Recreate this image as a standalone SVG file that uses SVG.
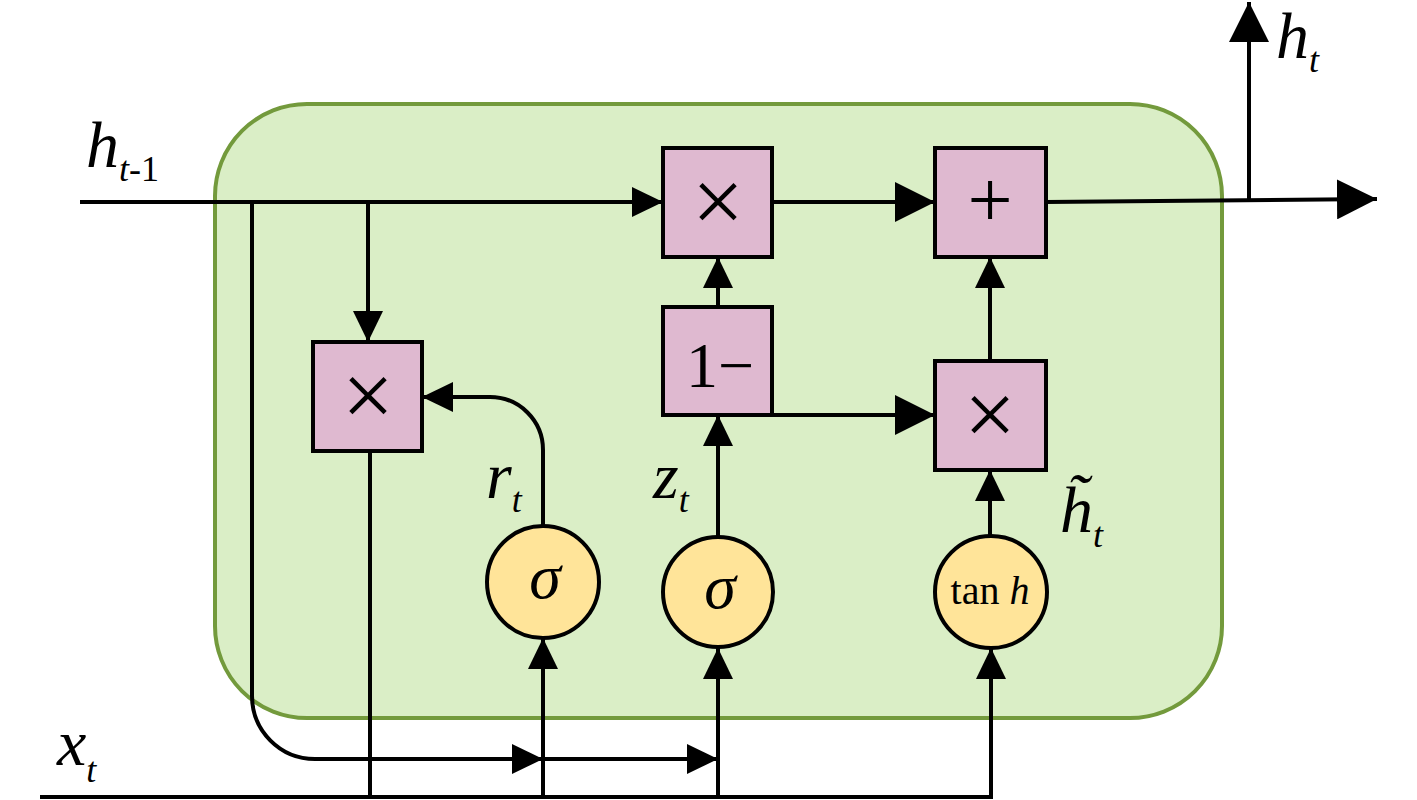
<svg xmlns="http://www.w3.org/2000/svg" width="1417" height="800" viewBox="0 0 1417 800">
<style>
.cell{fill:#daeec6;stroke:#739a3c;stroke-width:4}
.op{fill:#dfb9d0;stroke:#000;stroke-width:4}
.act{fill:#ffe499;stroke:#000;stroke-width:4}
.ln{fill:none;stroke:#000;stroke-width:4}
.m{font-family:"Liberation Serif",serif;font-style:italic;fill:#000}
.r{font-family:"Liberation Serif",serif;fill:#000}
</style>
<defs>
<marker id="as" markerUnits="userSpaceOnUse" markerWidth="31" markerHeight="30" refX="31" refY="15" orient="auto"><path d="M0,0 L31,15 L0,30 z" fill="#000"/></marker>
<marker id="al" markerUnits="userSpaceOnUse" markerWidth="40" markerHeight="40" refX="40" refY="20" orient="auto"><path d="M0,0 L40,20 L0,40 z" fill="#000"/></marker>
</defs>
<rect id="cell" class="cell" x="215" y="104" width="1007" height="614" rx="92" ry="92"/>
<g id="connectors">
<path class="ln" d="M80,202 H663" marker-end="url(#as)"/>
<path class="ln" d="M368,202 V342" marker-end="url(#as)"/>
<path class="ln" d="M252,202 V696 A63,63 0 0 0 315,759 H543" marker-end="url(#as)"/>
<path class="ln" d="M543,759 H718" marker-end="url(#as)"/>
<path class="ln" d="M370,451 V797"/>
<path class="ln" d="M40,797 H991 V648" marker-end="url(#as)"/>
<path class="ln" d="M543,797 V638" marker-end="url(#as)"/>
<path class="ln" d="M718,797 V648" marker-end="url(#as)"/>
<path class="ln" d="M543,526 V450 A53,53 0 0 0 490,397 H422" marker-end="url(#as)"/>
<path class="ln" d="M718,537 V415" marker-end="url(#as)"/>
<path class="ln" d="M718,307 V257" marker-end="url(#as)"/>
<path class="ln" d="M772,415 H935" marker-end="url(#al)"/>
<path class="ln" d="M772,202 H935" marker-end="url(#al)"/>
<path class="ln" d="M990,361 V257" marker-end="url(#as)"/>
<path class="ln" d="M990,536 V470" marker-end="url(#as)"/>
<path class="ln" d="M1046,202 L1377,199" marker-end="url(#al)"/>
<path class="ln" d="M1249,200 V2" marker-end="url(#al)"/>
</g>
<g id="reset_mul"><rect class="op" x="313" y="342" width="109" height="109"/><text class="r" x="368" y="426" font-size="92" text-anchor="middle">×</text></g>
<g id="top_mul"><rect class="op" x="663" y="148" width="109" height="109"/><text class="r" x="718" y="232" font-size="92" text-anchor="middle">×</text></g>
<g id="plus"><rect class="op" x="935" y="148" width="111" height="109"/><text class="r" x="990" y="227" font-size="80" text-anchor="middle">+</text></g>
<g id="one_minus"><rect class="op" x="663" y="307" width="109" height="108"/><text class="r" x="720" y="387" font-size="64" text-anchor="middle">1−</text></g>
<g id="bottom_mul"><rect class="op" x="935" y="361" width="111" height="109"/><text class="r" x="990" y="445" font-size="92" text-anchor="middle">×</text></g>
<g id="sigma_r"><circle class="act" cx="543" cy="582" r="56"/><text class="m" x="545" y="598" font-size="64" text-anchor="middle">σ</text></g>
<g id="sigma_z"><circle class="act" cx="718" cy="592" r="55"/><text class="m" x="720" y="608" font-size="64" text-anchor="middle">σ</text></g>
<g id="tanh"><circle class="act" cx="991" cy="592" r="56"/><text class="r" x="990" y="604" font-size="40" text-anchor="middle">tan <tspan class="m">h</tspan></text></g>
<g id="labels">
<text class="m" x="86" y="167" font-size="66">h<tspan font-size="36" dy="14">t</tspan><tspan font-size="36" font-style="normal">-1</tspan></text>
<text class="m" x="1276" y="58" font-size="66">h<tspan font-size="36" dy="14">t</tspan></text>
<text class="m" x="57" y="765" font-size="66">x<tspan font-size="36" dy="17">t</tspan></text>
<text class="m" x="486" y="498" font-size="66">r<tspan font-size="36" dy="14">t</tspan></text>
<text class="m" x="653" y="498" font-size="66">z<tspan font-size="36" dy="14">t</tspan></text>
<text class="m" x="1060" y="532" font-size="66">h̃<tspan font-size="36" dy="15">t</tspan></text>
</g>
</svg>
